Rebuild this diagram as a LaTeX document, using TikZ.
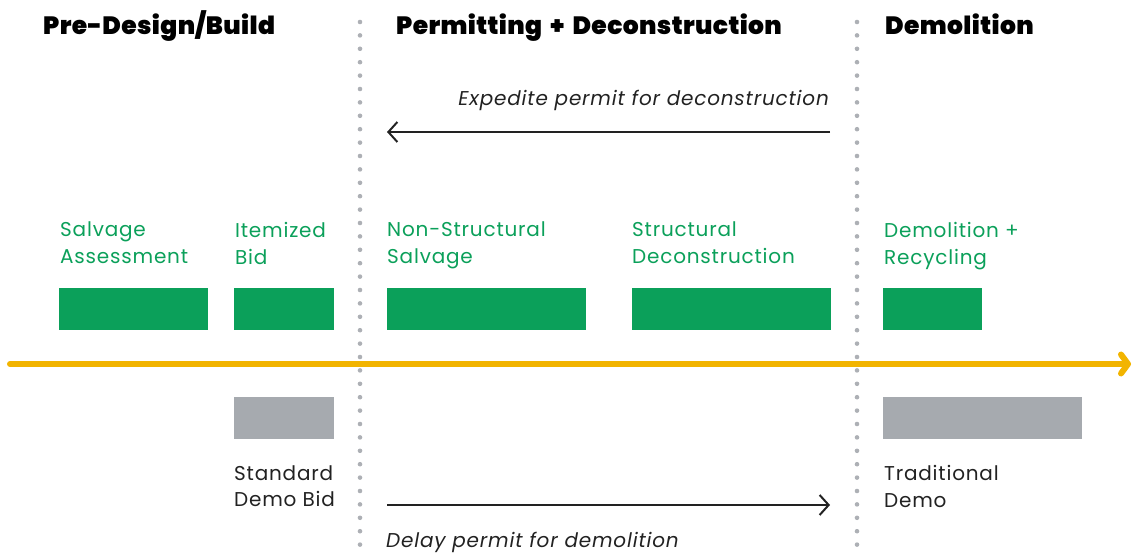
\documentclass[tikz,border=0pt]{standalone}
\usepackage{fontspec}
\setmainfont{Poppins}[LetterSpace=4]
\newfontfamily\hdrfont{Poppins Black}[WordSpace=1.8, LetterSpace=1.5]
\usetikzlibrary{arrows.meta, calc, positioning}
\definecolor{dgreen}{HTML}{0BA05A}
\definecolor{dgray}{HTML}{A6AAAF}
\definecolor{dots}{HTML}{ADB0B5}
\definecolor{tyellow}{HTML}{F2B400}
\definecolor{ink}{HTML}{222222}
\tikzset{gbox/.style={inner sep=0pt, rectangle, fill=dgreen, anchor=north west, minimum height=42pt},
    gybox/.style={inner sep=0pt, rectangle, fill=dgray, anchor=north west, minimum height=42pt},
    glab/.style={inner sep=0pt, anchor=north west, align=left, text=dgreen, font=\fontsize{20}{26.6}\selectfont},
    blab/.style={glab, text=ink},
    hdr/.style={inner sep=0pt, anchor=base west, font=\fontsize{25}{30}\hdrfont},
    note/.style={inner sep=0pt, font=\fontsize{20}{26}\selectfont\itshape, text=ink},
    parr/.style={draw=ink, line width=2pt, -{Straight Barb[length=9pt, width=20pt]}}}

\begin{document}
\begin{tikzpicture}[x=1pt, y=-1pt]
                        \useasboundingbox (0, 0) rectangle (1135, 553);
                        \node[hdr] (h1) at (43, 35) {Pre-Design/Build};
                        \node[hdr] (h2) at (396, 35) {Permitting + Deconstruction};
                        \node[hdr] (h3) at (885, 35) {Demolition};

                        \foreach \x in {360, 857}
                            \foreach \y in {22, 35.4, ..., 553}
                                \fill[dots] (\x, \y) circle (2.3);

                        \node[gbox, minimum width=149pt] (sa) at (59, 288) {};
                        \node[gbox, minimum width=100pt] (ib) at (234, 288) {};
                        \node[gbox, minimum width=199pt] (ns) at (387, 288) {};
                        \node[gbox, minimum width=199pt] (sd) at (632, 288) {};
                        \node[gbox, minimum width=99pt] (dr) at (883, 288) {};
                        \node[gybox, minimum width=100pt] (sb) at (234, 397) {};
                        \node[gybox, minimum width=199pt] (td) at (883, 397) {};

                        \node[glab] (salab) at (60, 222) {Salvage\\Assessment};
                        \node[glab] (iblab) at (235, 222) {Itemized\\Bid};
                        \node[glab] (nslab) at (387, 222) {Non-Structural\\Salvage};
                        \node[glab] (sdlab) at (632, 222) {Structural\\Deconstruction};
                        \node[glab] (drlab) at (884, 222) {Demolition +\\Recycling};
                        \node[blab] (sblab) at (234, 465) {Standard\\Demo Bid};
                        \node[blab] (tdlab) at (884, 465) {Traditional\\Demo};

                        \coordinate (t0) at (10, 364);
                        \coordinate (t1) at (1131, 364);
                        \draw[tyellow, line width=6pt, line cap=round,
                            -{Straight Barb[round, length=7pt, width=19pt]}] (t0) -- (t1);

                        \coordinate (e0) at (830, 132);
                        \coordinate (e1) at (387, 132);
                        \draw[parr] (e0) -- (e1);
                        \node[note, anchor=base east] (elab) at (829, 106) {Expedite permit for deconstruction};

                        \coordinate (d0) at (387, 505);
                        \coordinate (d1) at (830, 505);
                        \draw[parr] (d0) -- (d1);
                        \node[note, anchor=base west] (dlab) at (386, 547) {Delay permit for demolition};
                    \end{tikzpicture}
\end{document}
